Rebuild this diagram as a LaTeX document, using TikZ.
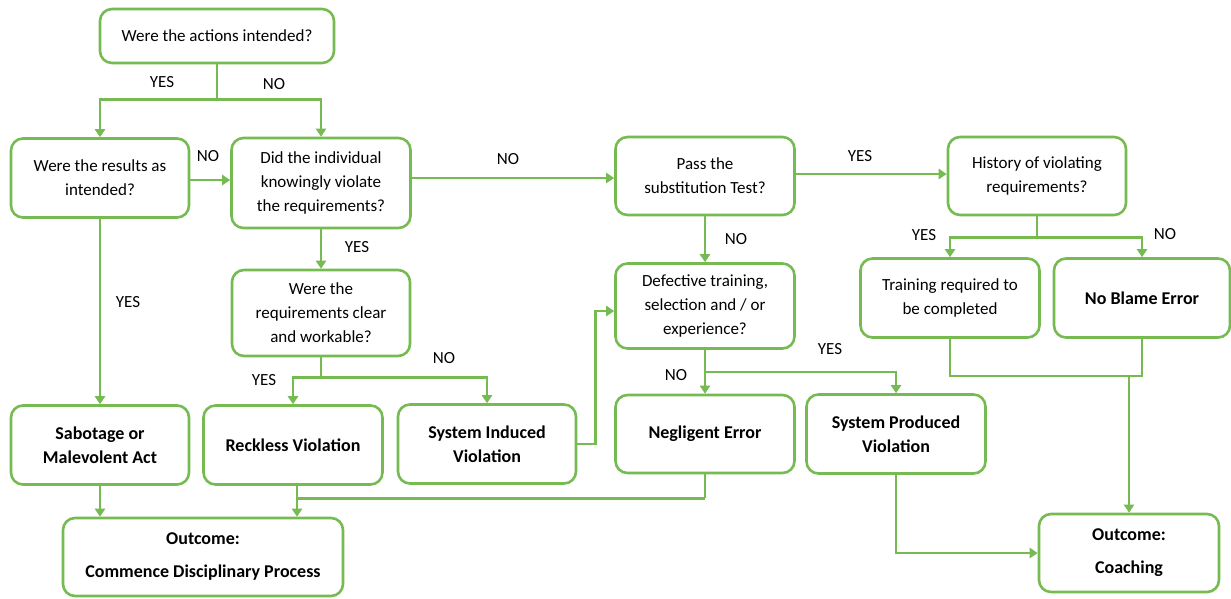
\documentclass[tikz,border=0pt]{standalone}
\usepackage{fontspec}
\setmainfont{Carlito}
\usetikzlibrary{arrows.meta}
\definecolor{lgreen}{RGB}{118,187,82}
\newcommand{\bx}[5]{\node[box,minimum width=#3,minimum height=#4] (#1) at #2 {#5};}
\newcommand{\bt}{\fontsize{18}{24}\selectfont\bfseries}

\begin{document}
\begin{tikzpicture}[x=1pt,y=-1pt,
  box/.style={draw=lgreen,line width=2.6pt,rounded corners=12pt,align=center,
    inner sep=0pt,font=\fontsize{17}{24}\selectfont},
  lbl/.style={font=\fontsize{17}{18}\selectfont,inner sep=1pt},
  link/.style={draw=lgreen,line width=2.6pt},
  conn/.style={link,-{Triangle[length=8pt,width=10pt]}}]
  \useasboundingbox[fill=white] (0,0) rectangle (1231,598);

  % questions
  \bx{q1}{(217,36)}{234}{54}{Were the actions intended?}
  \bx{q2}{(100,178)}{178}{79}{Were the results as\\intended?}
  \bx{q3}{(321,183)}{179}{90}{Did the individual\\knowingly violate\\the requirements?}
  \bx{q4}{(321,313)}{178}{86}{Were the\\requirements clear\\and workable?}
  \bx{q5}{(705,176)}{179}{78}{Pass the\\substitution Test?}
  \bx{q6}{(1037,176)}{178}{78}{History of violating\\requirements?}
  \bx{q7}{(705,306)}{179}{85}{Defective training,\\selection and / or\\experience?}
  \bx{r8}{(950,298)}{179}{79}{Training required to\\be completed}
  % results
  \bx{r9}{(1142,298)}{176}{79}{\bt No Blame Error}
  \bx{r10}{(100,445)}{178}{79}{\bt Sabotage or\\\bt Malevolent Act}
  \bx{r11}{(293,445)}{179}{79}{\bt Reckless Violation}
  \bx{r12}{(487,444)}{178}{79}{\bt System Induced\\\bt Violation}
  \bx{r13}{(705,434)}{179}{78}{\bt Negligent Error}
  \bx{r14}{(896,434)}{179}{79}{\bt System Produced\\\bt Violation}
  % outcomes
  \bx{o1}{(203,557)}{280}{78}{\bt Outcome:\\[9pt]\bt Commence Disciplinary Process}
  \bx{o2}{(1129,553)}{180}{78}{\bt Outcome:\\[9pt]\bt Coaching}

  % connectors
  \draw[link] (q1.south) -- ++(0,35) coordinate (s1);
  \draw[conn] (s1) -| (q2.north);
  \draw[conn] (s1) -| (q3.north);
  \draw[conn] (q2.east |- 0,180) -- (q3.west |- 0,180);
  \draw[conn] (q2.south) -- (r10.north);
  \draw[conn] (q3.south) -- (q4.north);
  \draw[conn] (q3.east |- 0,178) -- (q5.west |- 0,178);
  \draw[link] (q4.south) -- ++(0,20) coordinate (s4);
  \draw[conn] (s4) -| (r11.north);
  \draw[conn] (s4) -| (r12.north);
  \draw[conn] (r12.east) -- ++(18,0) |- ([yshift=-5pt]q7.west);
  \draw[conn] (q5.south) -- (q7.north);
  \draw[conn] (q5.east |- 0,174) -- (q6.west |- 0,174);
  \draw[link] (q6.south) -- ++(0,21) coordinate (s6);
  \draw[conn] (s6) -| (r8.north);
  \draw[conn] (s6) -| (r9.north);
  \draw[conn] (q7.south) -- (r13.north);
  \draw[conn] (q7.south) ++(0,22) -| (r14.north);
  \draw[link] (r8.south) -- ++(0,37) coordinate (j8) -| (r9.south);
  \draw[conn] (j8 -| o2.north) -- (o2.north);
  \draw[conn] (r14.south) |- (o2.west);
  \draw[conn] (r10.south) -- (r10.south |- o1.north);
  \coordinate (k11) at ([xshift=4pt]r11.south);
  \draw[conn] (k11) -- (k11 |- o1.north);
  \draw[link] (r13.south) -- ++(0,24) coordinate (j13);
  \draw[link] (j13) -- (j13 -| k11);

  % labels
  \node[lbl] (l1) at (162,82) {YES};
  \node[lbl] (l2) at (274,84) {NO};
  \node[lbl] (l3) at (208,156) {NO};
  \node[lbl] (l4) at (128,302) {YES};
  \node[lbl] (l5) at (357,247) {YES};
  \node[lbl] (l6) at (508,159) {NO};
  \node[lbl] (l7) at (264,380) {YES};
  \node[lbl] (l8) at (444,358) {NO};
  \node[lbl] (l9) at (736,239) {NO};
  \node[lbl] (l10) at (860,156) {YES};
  \node[lbl] (l11) at (924,235) {YES};
  \node[lbl] (l12) at (1165,234) {NO};
  \node[lbl] (l13) at (676,375) {NO};
  \node[lbl] (l14) at (830,349) {YES};
\end{tikzpicture}
\end{document}
